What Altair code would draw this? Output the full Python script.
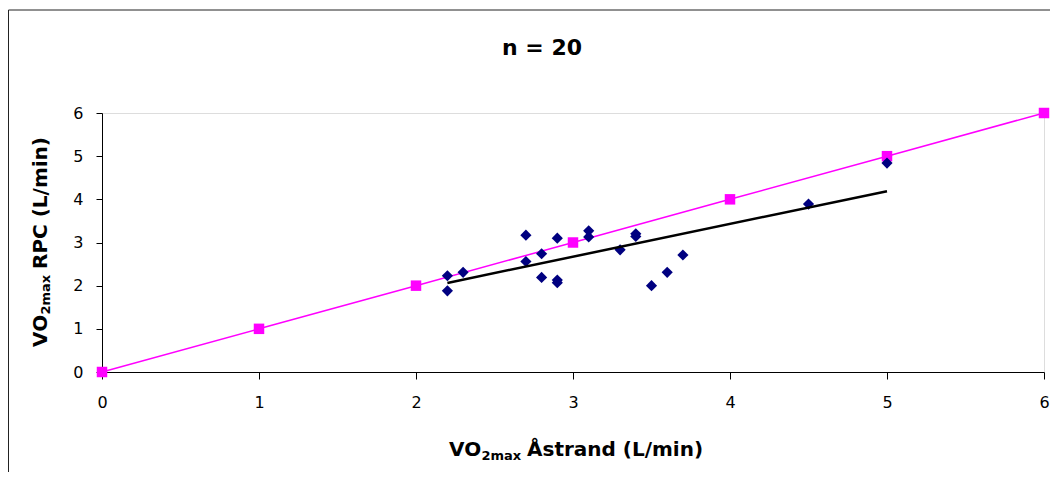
import altair as alt
import pandas as pd

# Data
astrand = [2.2, 2.2, 2.3, 2.7, 2.7, 2.8, 2.8, 2.9, 2.9, 2.9,
           3.1, 3.1, 3.3, 3.4, 3.4, 3.5, 3.6, 3.7, 4.5, 5.0]
rpc = [2.23, 1.88, 2.31, 3.17, 2.56, 2.74, 2.19, 3.10, 2.13, 2.07,
       3.27, 3.13, 2.83, 3.20, 3.14, 2.00, 2.31, 2.71, 3.89, 4.84]
ident = [0, 1, 2, 3, 4, 5, 6]
tick_values = [0, 1, 2, 3, 4, 5, 6]

FONT = "DejaVu Sans"
W, H = 942, 259

scatter_df = pd.DataFrame({"x": astrand, "y": rpc})
ident_df = pd.DataFrame({"x": ident, "y": ident})

xs = alt.Scale(domain=[0, 6], nice=False, zero=False)
ys = alt.Scale(domain=[0, 6], nice=False, zero=False)

xaxis = alt.Axis(values=tick_values, format="d", title=None, grid=False, labelFont=FONT,
                 labelFontSize=16, labelColor="black", tickColor="black",
                 domainColor="black", tickSize=7, labelPadding=15,
                 labelFlush=False, labelOverlap=False)
yaxis = alt.Axis(values=tick_values, format="d", title=None, grid=False, labelFont=FONT,
                 labelFontSize=16, labelColor="black", tickColor="black",
                 domainColor="black", tickSize=6, labelPadding=13,
                 labelOverlap=False)

base_ident = alt.Chart(ident_df).encode(
    x=alt.X("x:Q", scale=xs, axis=xaxis),
    y=alt.Y("y:Q", scale=ys, axis=yaxis),
)
ident_line = base_ident.mark_line(color="#FF00FF", strokeWidth=1.5)
ident_pts = base_ident.mark_point(shape="square", filled=True, size=110,
                                  color="#FF00FF", opacity=1)

pts = alt.Chart(scatter_df).mark_point(shape="diamond", filled=True, size=125,
                                       color="#000080", opacity=1).encode(
    x=alt.X("x:Q", scale=xs), y=alt.Y("y:Q", scale=ys))

reg = alt.Chart(scatter_df).transform_regression("x", "y").mark_line(
    color="black", strokeWidth=2.5).encode(
    x=alt.X("x:Q", scale=xs), y=alt.Y("y:Q", scale=ys))

one = pd.DataFrame({"a": [0]})


def txt(s, x, y, size, angle=0, weight="bold", align="left", baseline="alphabetic"):
    kw = dict(text=s, font=FONT, fontSize=size, fontWeight=weight,
              color="black", align=align, baseline=baseline)
    if angle:
        kw["angle"] = angle
    return alt.Chart(one).mark_text(**kw).encode(x=alt.value(x), y=alt.value(y))


# outer chart frame
frame = alt.Chart(one).mark_rect(fill="white", fillOpacity=0, stroke="#222222",
                                 strokeWidth=1).encode(
    x=alt.value(-93.5), y=alt.value(-103), x2=alt.value(1200), y2=alt.value(600))

title = txt("n = 20", 440, -58, 22, align="center")

xt1 = txt("VO", 347, 343.3, 20)
xt2 = txt("2max", 379.5, 346.8, 13)
xt3 = txt("Åstrand (L/min)", 425, 343.3, 20)

yt1 = txt("VO", -55.3, 234, 20, angle=270)
yt2 = txt("2max", -51.8, 201.5, 13, angle=270)
yt3 = txt("RPC (L/min)", -55.3, 156, 20, angle=270)

chart = alt.layer(
    frame, ident_line, ident_pts, pts, reg, title, xt1, xt2, xt3, yt1, yt2, yt3
).properties(
    width=W, height=H,
    autosize=alt.AutoSizeParams(type="none"),
    padding={"left": 94, "top": 105, "right": 6, "bottom": 100},
).configure_view(
    fill="#C0C0C0", stroke="#808080", strokeWidth=1
).configure(background="white")

chart.save("out.html", embed_options={"renderer": "svg", "actions": False})
